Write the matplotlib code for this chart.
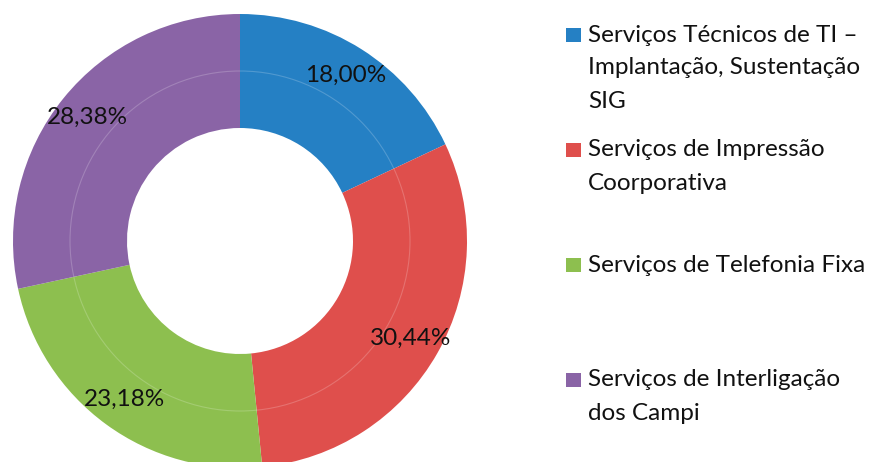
import matplotlib.pyplot as plt
from matplotlib.patches import Rectangle, Circle

# data
categories = [
    "Serviços Técnicos de TI –\nImplantação, Sustentação\nSIG",
    "Serviços de Impressão\nCoorporativa",
    "Serviços de Telefonia Fixa",
    "Serviços de Interligação\ndos Campi",
]
shares = [18.00, 30.44, 23.18, 28.38]
colors = ["#2580c4", "#df4f4c", "#8dbf4f", "#8a64a6"]

W, H = 875, 462
fig = plt.figure(figsize=(W / 100, H / 100), dpi=100)
ax = fig.add_axes([0, 0, 1, 1])

cx, cy, R = 240, H - 241, 227

wedges, texts, autotexts = ax.pie(
    shares, colors=colors, startangle=90, counterclock=False,
    center=(cx, cy), radius=R, pctdistance=0.865,
    autopct=lambda p: f"{p:.2f}%".replace(".", ","),
    wedgeprops=dict(width=114, linewidth=0),
    textprops=dict(fontsize=17.5, color="#111111", family="Lato"),
)

# faint separator between the two rings
ax.add_patch(Circle((cx, cy), 170, fill=False, edgecolor="white", alpha=0.2, lw=0.8))

# legend, drawn by hand
first_y = 35
entry_step = 115
line_step = 33
for i, (lab, col) in enumerate(zip(categories, colors)):
    y0 = first_y + entry_step * i
    ax.add_patch(Rectangle((566, H - y0 - 7), 15, 14, facecolor=col, edgecolor="none"))
    for j, line in enumerate(lab.split("\n")):
        ax.text(588, H - (y0 + j * line_step), line, fontsize=17.5, family="Lato",
                color="#111111", va="center", ha="left")

ax.set_xlim(0, W)
ax.set_ylim(0, H)
ax.set_aspect("equal")
ax.axis("off")

plt.savefig("out.png", dpi=100)
plt.close()
